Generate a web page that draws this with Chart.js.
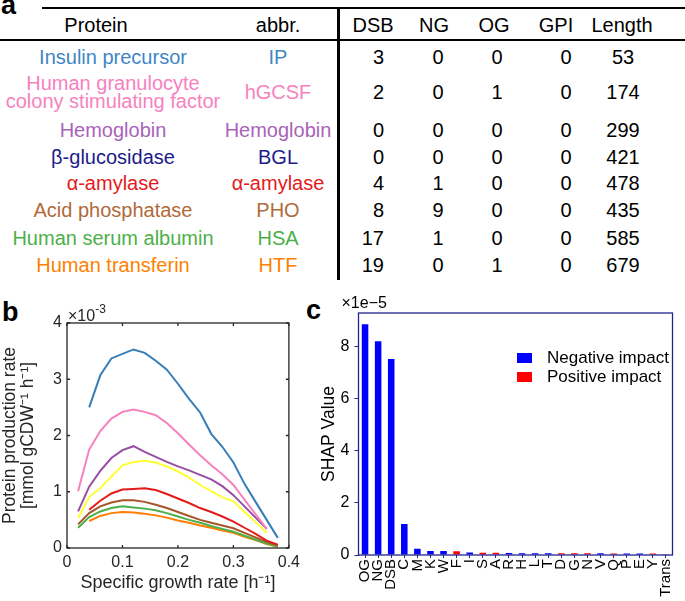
<!DOCTYPE html>
<html>
<head>
<meta charset="utf-8">
<script src="https://cdn.jsdelivr.net/npm/chart.js@4.4.0/dist/chart.umd.min.js"></script>
<style>
  html, body { margin: 0; padding: 0; background: #fff; }
  #fig { position: relative; width: 685px; height: 601px; overflow: hidden;
         font-family: "Liberation Sans", Arial, sans-serif; color: #000; }
  .cell { position: absolute; white-space: pre; font-size: 20px; line-height: 20px; text-align: center; }
  .panel { position: absolute; font-weight: bold; font-size: 27px; line-height: 27px; }
  .rule { position: absolute; background: #000; }
  canvas { position: absolute; }
</style>
</head>
<body>
<div id="fig">
  <div class="panel" style="left:1px; top:-8px">a</div>
  <div class="panel" style="left:2px; top:299px">b</div>
  <div class="panel" style="left:306px; top:297px">c</div>
  <div class="rule" style="left:42px; top:7px; width:643px; height:2px"></div>
  <div class="rule" style="left:0; top:39px; width:685px; height:2px"></div>
  <div class="rule" style="left:337px; top:7px; width:2.5px; height:273px"></div>
  <div id="table"></div>
  <canvas id="rateChart" width="305" height="311" style="left:0; top:290px"></canvas>
  <canvas id="shapChart" width="385" height="311" style="left:300px; top:290px"></canvas>
</div>
<script>
// ---- panel a: protein table ----
const tableHeaders = ['Protein', 'abbr.', 'DSB', 'NG', 'OG', 'GPI', 'Length'];
const proteinNames = ['Insulin precursor', 'Human granulocyte\ncolony stimulating factor', 'Hemoglobin',
  'β-glucosidase', 'α-amylase', 'Acid phosphatase', 'Human serum albumin', 'Human transferin'];
const proteinAbbr = ['IP', 'hGCSF', 'Hemoglobin', 'BGL', 'α-amylase', 'PHO', 'HSA', 'HTF'];
const textColors = ['#3f86c4', '#f781bf', '#a963b8', '#1c1c8a', '#e41a1c', '#b06a3b', '#4daf4a', '#ff7f00'];
const dsbCounts = [3, 2, 0, 0, 4, 8, 17, 19];
const ngCounts = [0, 0, 0, 0, 1, 9, 1, 0];
const ogCounts = [0, 1, 0, 0, 0, 0, 0, 1];
const gpiCounts = [0, 0, 0, 0, 0, 0, 0, 0];
const proteinLengths = [53, 174, 299, 421, 478, 435, 585, 679];

// ---- panel b: production rate vs growth rate (x10^-3) ----
const growthRates = [0.02, 0.04, 0.06, 0.08, 0.10, 0.12, 0.14, 0.16, 0.18, 0.20,
  0.22, 0.24, 0.26, 0.28, 0.30, 0.32, 0.34, 0.36, 0.38];
const rateIP    = [null, 2.50, 3.07, 3.37, 3.45, 3.53, 3.47, 3.33, 3.17, 2.92, 2.65, 2.41, 2.03, 1.80, 1.52, 1.14, 0.82, 0.50, 0.18];
const rateHGCSF = [1.01, 1.75, 2.08, 2.30, 2.42, 2.46, 2.42, 2.36, 2.22, 2.04, 1.84, 1.65, 1.47, 1.31, 1.12, 0.86, 0.60, 0.34, null];
const rateHb    = [0.65, 1.09, 1.37, 1.60, 1.74, 1.81, 1.71, 1.62, 1.53, 1.45, 1.38, 1.30, 1.22, 1.10, 0.94, 0.74, 0.54, 0.34, null];
const rateBGL   = [0.53, 0.91, 1.06, 1.27, 1.47, 1.53, 1.55, 1.52, 1.45, 1.36, 1.25, 1.12, 1.01, 0.90, 0.83, 0.64, 0.46, 0.27, null];
const rateAmy   = [null, 0.68, 0.84, 0.97, 1.04, 1.05, 1.06, 1.03, 0.96, 0.88, 0.80, 0.71, 0.64, 0.56, 0.47, 0.36, 0.25, 0.13, 0.06];
const ratePHO   = [0.42, 0.62, 0.74, 0.81, 0.85, 0.85, 0.82, 0.77, 0.71, 0.64, 0.57, 0.50, 0.45, 0.40, 0.35, 0.27, 0.19, 0.11, 0.05];
const rateHSA   = [0.36, 0.55, 0.65, 0.71, 0.74, 0.72, 0.70, 0.67, 0.62, 0.56, 0.50, 0.45, 0.39, 0.34, 0.29, 0.22, 0.15, 0.08, 0.03];
const rateHTF   = [null, 0.48, 0.57, 0.62, 0.64, 0.63, 0.61, 0.58, 0.54, 0.49, 0.45, 0.40, 0.36, 0.31, 0.27, 0.20, 0.14, 0.07, 0.02];
const lineColors = ['#377eb8', '#f781bf', '#984ea3', '#ffff33', '#e41a1c', '#a65628', '#4daf4a', '#ff7f00'];
const growthTicks = [0, 0.1, 0.2, 0.3, 0.4];
const rateTicks = [0, 1, 2, 3, 4];

// ---- panel c: SHAP values (x1e-5) ----
const featureNames = ['OG', 'NG', 'DSB', 'C', 'M', 'K', 'W', 'F', 'I', 'S', 'A', 'R', 'H', 'L',
  'T', 'D', 'G', 'N', 'V', 'Q', 'P', 'E', 'Y', 'Trans'];
const shapValues = [8.87, 8.21, 7.53, 1.19, 0.24, 0.15, 0.15, 0.14, 0.10, 0.09, 0.09, 0.08, 0.07, 0.07,
  0.07, 0.07, 0.07, 0.07, 0.07, 0.06, 0.06, 0.06, 0.06, 0.03];
const impactSigns = ['neg', 'neg', 'neg', 'neg', 'neg', 'neg', 'neg', 'pos', 'neg', 'pos', 'pos', 'neg', 'neg', 'neg',
  'neg', 'pos', 'pos', 'pos', 'neg', 'pos', 'neg', 'neg', 'pos', 'pos'];
const shapTicks = [0, 2, 4, 6, 8];

// ---------- table ----------
const table = document.getElementById('table');
function addCell(text, cx, cy, color, align, lh) {
  const d = document.createElement('div');
  d.className = 'cell';
  d.textContent = text;
  d.style.color = color;
  const lines = String(text).split('\n').length;
  d.style.lineHeight = lh + 'px';
  d.style.left = cx + 'px';
  d.style.top = (cy - lines * lh / 2 + 0.2) + 'px';
  d.style.transform = align === 'right' ? 'translateX(-100%)' : 'translateX(-50%)';
  table.appendChild(d);
}
const headerX = [96, 278, 373, 434, 494, 556, 622];
tableHeaders.forEach((h, i) => addCell(h, headerX[i], 25, '#000', 'center', 20));
const rowY = [57, 92, 130, 157, 183, 210, 238, 265];
proteinNames.forEach((name, i) => {
  const y = rowY[i];
  addCell(name, 113, y, textColors[i], 'center', name.includes('\n') ? 18.7 : 20);
  addCell(proteinAbbr[i], 278, y, textColors[i], 'center', 20);
  addCell(dsbCounts[i], 384, y, '#000', 'right', 20);
  addCell(ngCounts[i], 438, y, '#000', 'center', 20);
  addCell(ogCounts[i], 497, y, '#000', 'center', 20);
  addCell(gpiCounts[i], 566, y, '#000', 'center', 20);
  addCell(proteinLengths[i], 623, y, '#000', 'center', 20);
});

Chart.defaults.font.family = '"Liberation Sans", Arial, sans-serif';

// ---------- panel b ----------
const rateSeries = [rateIP, rateHGCSF, rateHb, rateBGL, rateAmy, ratePHO, rateHSA, rateHTF];
const frameB = {
  id: 'frameB',
  afterDatasetsDraw(chart) {
    const {ctx, chartArea: a, scales: {x, y}} = chart;
    ctx.save();
    ctx.strokeStyle = '#262626';
    ctx.lineWidth = 1.3;
    ctx.strokeRect(a.left, a.top, a.right - a.left, a.bottom - a.top);
    ctx.beginPath();
    x.ticks.forEach(t => {
      const px = x.getPixelForValue(t.value);
      ctx.moveTo(px, a.bottom); ctx.lineTo(px, a.bottom - 3);
      ctx.moveTo(px, a.top); ctx.lineTo(px, a.top + 3);
    });
    y.ticks.forEach(t => {
      const py = y.getPixelForValue(t.value);
      ctx.moveTo(a.left, py); ctx.lineTo(a.left + 3, py);
      ctx.moveTo(a.right, py); ctx.lineTo(a.right - 3, py);
    });
    ctx.stroke();
    ctx.fillStyle = '#262626';
    ctx.textBaseline = 'alphabetic';
    ctx.font = '16px "Liberation Sans"';
    ctx.fillText('×10', a.left + 1, a.top - 2);
    const w = ctx.measureText('×10').width;
    ctx.font = '12px "Liberation Sans"';
    ctx.fillText('-3', a.left + 1 + w, a.top - 10);
    ctx.restore();
  }
};

new Chart(document.getElementById('rateChart'), {
  type: 'line',
  data: {
    datasets: rateSeries.map((vals, i) => ({
      label: proteinAbbr[i],
      data: growthRates.map((g, j) => ({x: g, y: vals[j]})),
      borderColor: lineColors[i],
      borderWidth: 2,
      pointRadius: 0,
      tension: 0,
      fill: false
    }))
  },
  options: {
    responsive: false,
    animation: false,
    layout: {padding: {top: 33, right: 12, left: 0, bottom: 0}},
    plugins: {legend: {display: false}, tooltip: {enabled: false}},
    scales: {
      x: {
        type: 'linear', min: 0, max: 0.4,
        afterBuildTicks: s => { s.ticks = growthTicks.map(v => ({value: v})); },
        afterFit: s => { s.height = 53; },
        grid: {display: false, drawTicks: false},
        border: {display: false},
        ticks: {padding: 5, maxRotation: 0, font: {size: 16}, color: '#262626'},
        title: {display: true, text: 'Specific growth rate [h⁻¹]', color: '#262626',
                font: {size: 18}, padding: {top: 0, bottom: 7}}
      },
      y: {
        min: 0, max: 4,
        afterBuildTicks: s => { s.ticks = rateTicks.map(v => ({value: v})); },
        afterFit: s => { s.width = 67; },
        grid: {display: false, drawTicks: false},
        border: {display: false},
        ticks: {padding: 5, font: {size: 16}, color: '#262626'},
        title: {display: true, text: ['Protein production rate', '[mmol gCDW⁻¹ h⁻¹]'], color: '#262626',
                font: {size: 17.5, lineHeight: 1.04}, padding: {top: 1, bottom: 0}}
      }
    }
  },
  plugins: [frameB]
});

// ---------- panel c ----------
const navy = '#23238e';
const shapLegend = {
  id: 'shapLegend',
  afterDraw(chart) {
    const {ctx, chartArea: a} = chart;
    ctx.save();
    // frame
    ctx.strokeStyle = navy;
    ctx.lineWidth = 1.3;
    ctx.strokeRect(a.left, a.top, a.right - a.left, a.bottom - a.top);
    // legend
    ctx.font = '17px "Liberation Sans"';
    ctx.textBaseline = 'middle';
    chart.data.datasets.forEach((ds, i) => {
      const y = a.top + 45 + i * 19;
      ctx.fillStyle = ds.backgroundColor;
      ctx.fillRect(a.left + 158.5, y - 5, 15, 10);
      ctx.fillStyle = '#000';
      ctx.fillText(ds.label, a.left + 188.5, y);
    });
    // exponent
    ctx.font = '16px "Liberation Sans"';
    ctx.fillText('×1e−5', a.left - 17, a.top - 9);
    ctx.restore();
  }
};

new Chart(document.getElementById('shapChart'), {
  type: 'bar',
  data: {
    labels: featureNames,
    datasets: [
      {label: 'Negative impact', backgroundColor: '#0000ff',
       data: shapValues.map((v, i) => impactSigns[i] === 'neg' ? v : null)},
      {label: 'Positive impact', backgroundColor: '#ff0000',
       data: shapValues.map((v, i) => impactSigns[i] === 'pos' ? v : null)}
    ]
  },
  options: {
    responsive: false,
    animation: false,
    grouped: false,
    barPercentage: 0.5,
    categoryPercentage: 1,
    layout: {padding: {top: 23, right: 2, left: 0, bottom: 0}},
    plugins: {legend: {display: false}, tooltip: {enabled: false}},
    scales: {
      x: {
        afterFit: s => { s.height = 46; },
        grid: {display: true, drawOnChartArea: false, tickLength: 3, offset: false, color: navy},
        border: {display: false},
        ticks: {minRotation: 90, maxRotation: 90, autoSkip: false, padding: 1, font: {size: 15}, color: '#000'}
      },
      y: {
        min: 0, max: 9.3,
        afterBuildTicks: s => { s.ticks = shapTicks.map(v => ({value: v})); },
        afterFit: s => { s.width = 58.5; },
        grid: {display: true, drawOnChartArea: false, tickLength: 4, color: navy},
        border: {display: false},
        ticks: {padding: 5, font: {size: 16}, color: '#000'},
        title: {display: true, text: 'SHAP Value', color: '#000', font: {size: 17.5}, padding: {top: 19, bottom: 0}}
      }
    }
  },
  plugins: [shapLegend]
});
</script>
</body>
</html>
